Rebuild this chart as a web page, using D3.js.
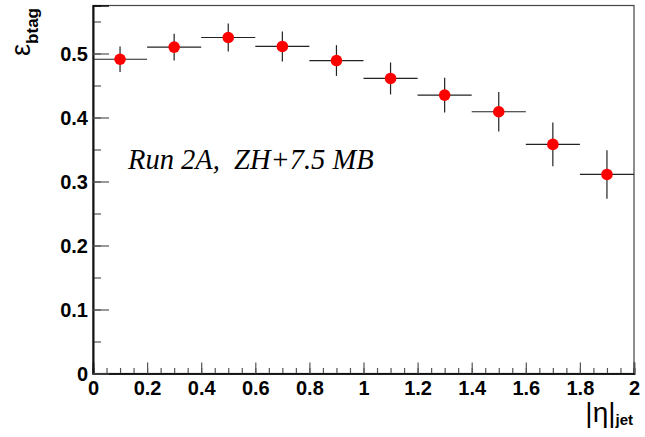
<!DOCTYPE html>
<html>
<head>
<meta charset="utf-8">
<script src="https://cdn.jsdelivr.net/npm/d3@7"></script>
<style>
  html, body { margin: 0; padding: 0; background: #fff; }
  svg { display: block; }
</style>
</head>
<body>
<svg id="chart" width="645" height="437"></svg>
<script>
// ---- data ----
const etaCenters = [0.1, 0.3, 0.5, 0.7, 0.9, 1.1, 1.3, 1.5, 1.7, 1.9];
const etaHalfWidth = [0.1, 0.1, 0.1, 0.1, 0.1, 0.1, 0.1, 0.1, 0.1, 0.1];
const effValues = [0.491, 0.510, 0.525, 0.511, 0.489, 0.461, 0.435, 0.409, 0.358, 0.311];
const effErrors = [0.020, 0.021, 0.022, 0.0235, 0.024, 0.025, 0.027, 0.031, 0.034, 0.038];
const xTickValues = [0, 0.2, 0.4, 0.6, 0.8, 1, 1.2, 1.4, 1.6, 1.8, 2];
const xTickLabels = ["0", "0.2", "0.4", "0.6", "0.8", "1", "1.2", "1.4", "1.6", "1.8", "2"];
const yTickValues = [0, 0.1, 0.2, 0.3, 0.4, 0.5];
const yTickLabels = ["0", "0.1", "0.2", "0.3", "0.4", "0.5"];
const xMinorValues = d3.range(0, 41).map(i => i * 0.05);
const yMinorValues = d3.range(0, 12).map(i => i * 0.05);
const annotation = "Run 2A,  ZH+7.5 MB";

const svg = d3.select("#chart");
const L = 93, R = 634, T = 5.5, B = 373.5;
const x = d3.scaleLinear().domain([0, 2]).range([L, R]);
const y = d3.scaleLinear().domain([0, 0.575]).range([B, T]);

// frame
svg.append("rect")
  .attr("x", L).attr("y", T).attr("width", R - L).attr("height", B - T)
  .attr("fill", "none").attr("stroke", "#444").attr("stroke-width", 1.2);

const sans = "'Liberation Sans', Arial, Helvetica, sans-serif";

// x axis minor
const gxMinor = svg.append("g").attr("transform", `translate(0,${B})`)
  .call(d3.axisBottom(x).tickValues(xMinorValues).tickSize(-5.5).tickFormat(""));
// x axis major
const gx = svg.append("g").attr("transform", `translate(0,${B})`)
  .call(d3.axisBottom(x).tickValues(xTickValues).tickSize(-11)
        .tickFormat((d, i) => xTickLabels[i]).tickPadding(21.5));
// y axis minor
const gyMinor = svg.append("g").attr("transform", `translate(${L},0)`)
  .call(d3.axisLeft(y).tickValues(yMinorValues).tickSize(-8).tickFormat(""));
// y axis major
const gy = svg.append("g").attr("transform", `translate(${L},0)`)
  .call(d3.axisLeft(y).tickValues(yTickValues).tickSize(-16)
        .tickFormat((d, i) => yTickLabels[i]).tickPadding(5));

[gxMinor, gx, gyMinor, gy].forEach(g => {
  g.select(".domain").attr("stroke", "#111").attr("stroke-width", 1.6);
  g.selectAll(".tick line").attr("stroke", "#555").attr("stroke-width", 1.2);
  g.selectAll("text").attr("font-family", sans).attr("font-weight", "bold")
    .attr("font-size", 20).attr("fill", "#000");
});
gx.selectAll("text").attr("dy", "0em");
gy.selectAll("text").attr("dy", "0.36em");

// error bars
const pts = svg.append("g");
etaCenters.forEach((c, i) => {
  pts.append("line")
    .attr("x1", x(c - etaHalfWidth[i])).attr("x2", x(c + etaHalfWidth[i]))
    .attr("y1", y(effValues[i])).attr("y2", y(effValues[i]))
    .attr("stroke", "#222").attr("stroke-width", 1.2);
  pts.append("line")
    .attr("x1", x(c)).attr("x2", x(c))
    .attr("y1", y(effValues[i] - effErrors[i])).attr("y2", y(effValues[i] + effErrors[i]))
    .attr("stroke", "#222").attr("stroke-width", 1.2);
});
pts.selectAll("circle").data(etaCenters).join("circle")
  .attr("cx", d => x(d)).attr("cy", (d, i) => y(effValues[i]))
  .attr("r", 5.8).attr("fill", "#ff0000");

// annotation
svg.append("text")
  .attr("x", 128).attr("y", 169)
  .attr("font-family", "'Liberation Serif', 'Times New Roman', serif")
  .attr("font-style", "italic").attr("font-size", 28.5)
  .style("white-space", "pre")
  .text(annotation);

// x axis title |η|_jet
const xt = svg.append("text")
  .attr("x", 633).attr("y", 422).attr("text-anchor", "end")
  .attr("font-family", sans).attr("fill", "#000");
xt.append("tspan").attr("font-size", 28).text("|η|");
xt.append("tspan").attr("font-size", 15).attr("font-weight", "bold").attr("dy", 3).text("jet");

// y axis title ε_btag
const yt = svg.append("text")
  .attr("transform", "translate(30,8) rotate(-90)")
  .attr("text-anchor", "end")
  .attr("font-family", sans).attr("fill", "#000");
yt.append("tspan").attr("font-size", 27).text("ε");
yt.append("tspan").attr("font-size", 17).attr("font-weight", "bold").attr("dy", 8).text("btag");
</script>
</body>
</html>
